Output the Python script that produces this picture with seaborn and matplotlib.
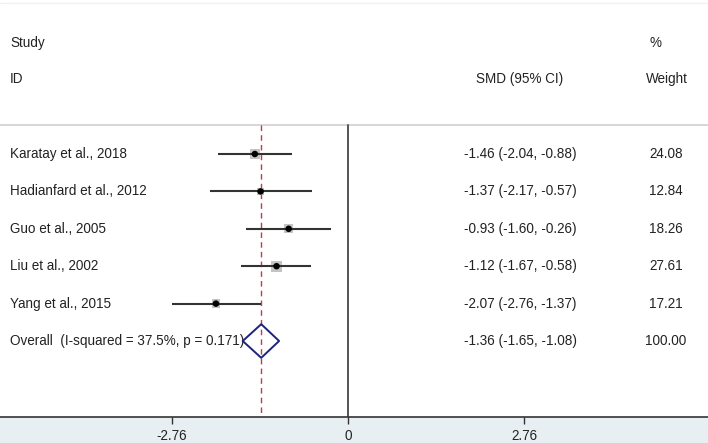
import matplotlib
matplotlib.use("Agg")
import matplotlib.pyplot as plt
import seaborn as sns
import pandas as pd
import numpy as np
from matplotlib.transforms import blended_transform_factory

studies = ["Karatay et al., 2018", "Hadianfard et al., 2012", "Guo et al., 2005",
           "Liu et al., 2002", "Yang et al., 2015"]
smd = [-1.46, -1.37, -0.93, -1.12, -2.07]
ci_low = [-2.04, -2.17, -1.60, -1.67, -2.76]
ci_high = [-0.88, -0.57, -0.26, -0.58, -1.37]
weights = [24.08, 12.84, 18.26, 27.61, 17.21]
overall_label = "Overall  (I-squared = 37.5%, p = 0.171)"
overall = [-1.36, -1.65, -1.08]
overall_weight = "100.00"
xticks = [-2.76, 0, 2.76]
xtick_labels = ["-2.76", "0", "2.76"]

sns.set_theme(style="white")
plt.rcParams['font.family'] = ['Liberation Sans', 'DejaVu Sans']

W, H = 708, 443
fig = plt.figure(figsize=(W/100, H/100), dpi=100, facecolor="#E8EFF2")
axis_px = 417
ax = fig.add_axes([0, (H-axis_px)/H, 1, axis_px/H])
ax.set_facecolor("white")

# coordinate mapping
x0_px, unit_px = 348, 63.8
ax.set_xlim(-x0_px/unit_px, (W-x0_px)/unit_px)
row0_px, row_px = 154, 37.4
ax.set_ylim((axis_px-row0_px)/row_px, -row0_px/row_px)

n = len(studies)
rows = list(range(n))
df = pd.DataFrame({"study": studies, "smd": smd, "lo": ci_low, "hi": ci_high,
                   "w": weights, "row": rows})

top_row = (125-row0_px)/row_px
bottom_row = (axis_px-row0_px)/row_px

# header separator line
ax.axhline(top_row, color="#D0D0D0", lw=1.2, zorder=1)
ax.axhline((3-row0_px)/row_px, color="#EEF2F3", lw=1.0, zorder=1)

# zero line and overall line
ax.plot([0, 0], [top_row, bottom_row], color="#555555", lw=1.4, zorder=2)
ax.plot([overall[0]]*2, [top_row, bottom_row], color="#C23B4B", lw=1.0,
        ls=(0, (4, 3)), zorder=2)

# weight squares
k = 2.3
sns.scatterplot(data=df, x="smd", y="row", size="w", sizes=(k*min(weights), k*max(weights)),
                size_norm=(min(weights), max(weights)), marker="s", color="#C4C4C4",
                edgecolor="none", legend=False, ax=ax, zorder=3)
# CI lines
ax.hlines(df["row"], df["lo"], df["hi"], color="#333333", lw=1.5, zorder=4)
# point dots
sns.scatterplot(data=df, x="smd", y="row", marker="o", s=22, color="black",
                edgecolor="none", legend=False, ax=ax, zorder=5)

# overall diamond
yo = n
hh = 0.45
dx = [overall[1], overall[0], overall[2], overall[0], overall[1]]
dy = [yo, yo-hh, yo, yo+hh, yo]

fs = 9.75
tc = "#222222"
tx = blended_transform_factory(ax.transAxes, ax.transData)

def xf(px):
    return px / W

def yr(px):
    return (px - row0_px) / row_px

ax.text(xf(10), yr(43), "Study", transform=tx, fontsize=fs, color=tc, va="center")
ax.text(xf(10), yr(79), "ID", transform=tx, fontsize=fs, color=tc, va="center")
ax.text(xf(520), yr(79), "SMD (95% CI)", transform=tx, fontsize=fs, color=tc, va="center", ha="center")
ax.text(xf(656), yr(43), "%", transform=tx, fontsize=fs, color=tc, va="center", ha="center")
ax.text(xf(667), yr(79), "Weight", transform=tx, fontsize=fs, color=tc, va="center", ha="center")

for i in range(n):
    ax.text(xf(10), i, studies[i], transform=tx, fontsize=fs, color=tc, va="center")
    ax.text(xf(520), i, f"{smd[i]:.2f} ({ci_low[i]:.2f}, {ci_high[i]:.2f})",
            transform=tx, fontsize=fs, color=tc, va="center", ha="center")
    ax.text(xf(666), i, f"{weights[i]:.2f}", transform=tx, fontsize=fs, color=tc,
            va="center", ha="center")

ax.text(xf(10), yo, overall_label, transform=tx, fontsize=fs, color=tc, va="center", zorder=3)
ax.text(xf(520), yo, f"{overall[0]:.2f} ({overall[1]:.2f}, {overall[2]:.2f})",
        transform=tx, fontsize=fs, color=tc, va="center", ha="center")
ax.text(xf(666), yo, overall_weight, transform=tx, fontsize=fs, color=tc, va="center", ha="center")

ax.plot(dx, dy, color="#1C237E", lw=1.4, zorder=6)

# axes styling
for s in ["top", "left", "right"]:
    ax.spines[s].set_visible(False)
ax.spines["bottom"].set_color("#333333")
ax.spines["bottom"].set_linewidth(1.2)
ax.set_xticks(xticks)
ax.set_xticklabels(xtick_labels)
ax.tick_params(axis="x", bottom=True, length=5, width=1, color="#333333",
               labelsize=fs, labelcolor=tc, pad=4)
ax.set_yticks([])
ax.set_xlabel("")
ax.set_ylabel("")

fig.savefig("out.png", dpi=100, facecolor=fig.get_facecolor())
